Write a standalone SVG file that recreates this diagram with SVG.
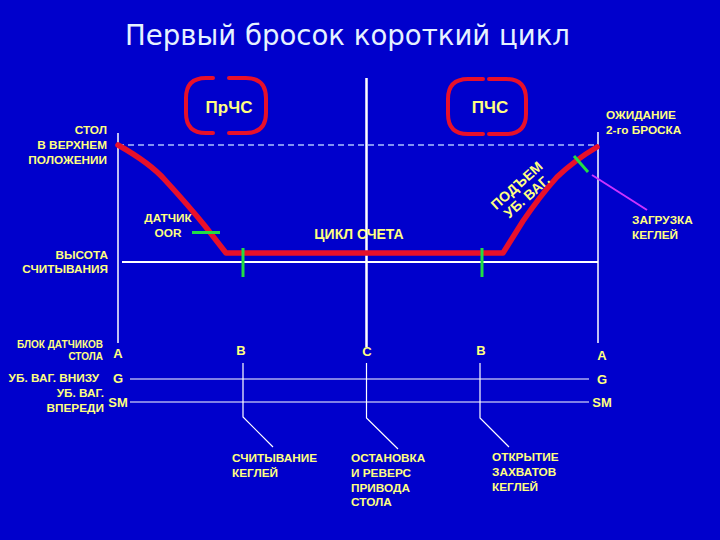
<svg xmlns="http://www.w3.org/2000/svg" width="720" height="540" viewBox="0 0 720 540">
<style>
.lbl{font-family:"Liberation Sans",Arial,sans-serif;font-weight:bold;fill:#FFFF80;font-size:11.8px}
.sm{font-size:10px}
.big{font-size:17px}
.ltr{font-size:13px}
.mid{font-size:14px}
.r{text-anchor:end}
.c{text-anchor:middle}
.wl{stroke:#FFFFFF;fill:none}
.red{stroke:#E8102A;fill:none;stroke-linecap:round;stroke-linejoin:round}
.grn{stroke:#22DD44;stroke-width:3;fill:none}
</style>
<rect width="720" height="540" fill="#0000CC"/>
<text x="125" y="45" font-family="DejaVu Sans,Verdana,sans-serif" font-size="29" fill="#E6F2FF" textLength="445" lengthAdjust="spacingAndGlyphs">Первый бросок короткий цикл</text>

<g id="axes">
<line class="wl" x1="118" y1="133" x2="118" y2="343" stroke-width="1.5"/>
<line class="wl" x1="598" y1="132" x2="598" y2="343" stroke-width="1.5"/>
<line class="wl" x1="366.5" y1="78" x2="366.5" y2="347" stroke-width="2.5"/>
<line x1="118" y1="145" x2="598" y2="145" stroke="#A8C0FF" stroke-width="1.5" stroke-dasharray="6 4"/>
<line class="wl" x1="122" y1="262" x2="598" y2="262" stroke-width="2"/>
</g>

<g id="curve">
<path class="red" stroke-width="5.5" d="M118 145 Q150 163 165 180 Q188 205 205 226 L226 253 L503 253 L523 221 Q540 196 557 177 Q575 160 597 147"/>
</g>

<g id="brackets">
<path class="red" stroke-width="4" d="M213 78 L206 78 Q186 78 186 98 L186 113 Q186 133 206 133 L213 133"/>
<path class="red" stroke-width="4" d="M229 78 L246 78 Q266 78 266 98 L266 113 Q266 133 246 133 L229 133"/>
<path class="red" stroke-width="4" d="M483 79 L468 79 Q448 79 448 99 L448 114 Q448 134 468 134 L483 134"/>
<path class="red" stroke-width="4" d="M489 79 L506 79 Q526 79 526 99 L526 114 Q526 134 506 134 L489 134"/>
</g>

<g id="marks">
<line class="grn" x1="192" y1="232.5" x2="220" y2="232.5"/>
<line class="grn" x1="243" y1="248" x2="243" y2="277"/>
<line class="grn" x1="482" y1="248" x2="482" y2="277"/>
<line class="grn" x1="574" y1="156" x2="588" y2="172"/>
<line x1="592" y1="175" x2="647" y2="210" stroke="#CC33FF" stroke-width="2"/>
</g>

<g id="signals">
<line class="wl" x1="130" y1="379" x2="589" y2="379" stroke-width="1.2"/>
<line class="wl" x1="130" y1="402" x2="589" y2="402" stroke-width="1.2"/>
<polyline class="wl" stroke-width="1.2" points="243,363 243,417 273,447"/>
<polyline class="wl" stroke-width="1.2" points="366.5,363 366.5,418 398,449"/>
<polyline class="wl" stroke-width="1.2" points="480,363 480,418 509,447"/>
</g>

<g id="labels">
<text class="lbl big c" x="229" y="113">ПрЧС</text>
<text class="lbl big c" x="490" y="113">ПЧС</text>
<text class="lbl r" x="107" y="134">СТОЛ</text>
<text class="lbl r" x="107" y="149">В ВЕРХНЕМ</text>
<text class="lbl r" x="107" y="164">ПОЛОЖЕНИИ</text>
<text class="lbl r" x="108" y="259">ВЫСОТА</text>
<text class="lbl r" x="108" y="273">СЧИТЫВАНИЯ</text>
<text class="lbl c" x="168" y="222">ДАТЧИК</text>
<text class="lbl c" x="168" y="237">OOR</text>
<text class="lbl mid c" x="359" y="239">ЦИКЛ СЧЕТА</text>
<text class="lbl" x="606" y="119">ОЖИДАНИЕ</text>
<text class="lbl" x="606" y="134">2-го БРОСКА</text>
<text class="lbl" x="632" y="224">ЗАГРУЗКА</text>
<text class="lbl" x="632" y="239">КЕГЛЕЙ</text>
<g transform="translate(520 189) rotate(-42)"><text class="lbl mid c" x="0" y="0">ПОДЪЕМ</text><text class="lbl mid c" x="0" y="15">УБ. ВАГ.</text></g>
<text class="lbl sm r" x="103" y="348">БЛОК ДАТЧИКОВ</text>
<text class="lbl sm r" x="103" y="360">СТОЛА</text>
<text class="lbl r" x="99" y="382">УБ. ВАГ. ВНИЗУ</text>
<text class="lbl r" x="104" y="397">УБ. ВАГ.</text>
<text class="lbl r" x="104" y="412">ВПЕРЕДИ</text>
<text class="lbl ltr c" x="118" y="358">A</text>
<text class="lbl ltr c" x="118" y="383">G</text>
<text class="lbl ltr c" x="118" y="407">SM</text>
<text class="lbl ltr c" x="602" y="360">A</text>
<text class="lbl ltr c" x="602" y="384">G</text>
<text class="lbl ltr c" x="602" y="407">SM</text>
<text class="lbl ltr c" x="241" y="355">B</text>
<text class="lbl ltr c" x="367" y="356">C</text>
<text class="lbl ltr c" x="481" y="355">B</text>
<text class="lbl" x="232" y="462">СЧИТЫВАНИЕ</text>
<text class="lbl" x="232" y="477">КЕГЛЕЙ</text>
<text class="lbl" x="351" y="462">ОСТАНОВКА</text>
<text class="lbl" x="351" y="477">И РЕВЕРС</text>
<text class="lbl" x="351" y="492">ПРИВОДА</text>
<text class="lbl" x="351" y="506">СТОЛА</text>
<text class="lbl" x="492" y="461">ОТКРЫТИЕ</text>
<text class="lbl" x="492" y="476">ЗАХВАТОВ</text>
<text class="lbl" x="492" y="491">КЕГЛЕЙ</text>
</g>
</svg>
